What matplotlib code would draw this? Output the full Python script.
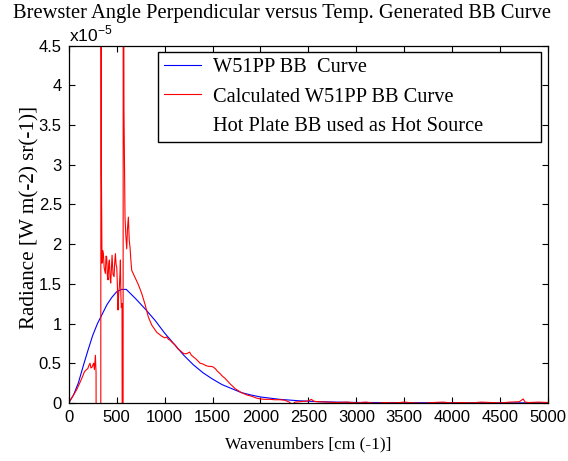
import matplotlib
matplotlib.use("Agg")
import matplotlib.pyplot as plt
from matplotlib.lines import Line2D

# radiance values are in units of 1e-5 W m^-2 sr^-1
blue_x = [0, 50, 100, 150, 200, 250, 300, 350, 400, 450, 500, 550, 600, 650,
          700, 800, 900, 1000, 1100, 1200, 1300, 1400, 1500, 1600, 1700, 1800,
          1900, 2000, 2200, 2400, 2600, 2800, 3000, 3500, 4000, 4500, 5000]
blue_y = [0, 0.10, 0.25, 0.46, 0.66, 0.85, 1.00, 1.12, 1.24, 1.33, 1.40, 1.43,
          1.43, 1.37, 1.31, 1.18, 1.04, 0.88, 0.74, 0.60, 0.48, 0.38, 0.30,
          0.23, 0.18, 0.13, 0.10, 0.075, 0.045, 0.027, 0.016, 0.01, 0.006,
          0.003, 0.002, 0.001, 0.0005]

red_x = [0, 40, 80, 111, 140, 163, 185, 198, 210, 222, 232, 243, 252, 260, 268,
         278, 285, 292, 333, 337, 341, 347, 354, 361, 370, 382, 389, 396, 403,
         410, 417, 424, 431, 438, 445, 452, 462, 473, 480, 487, 494, 501, 507,
         514, 521, 528, 534, 539, 544, 549, 556, 562, 566, 569, 576, 587, 596,
         605, 613, 622, 631, 640, 648, 657, 692, 726, 761, 796, 831, 866, 918,
         970, 1000, 1022, 1040, 1057, 1080, 1109, 1140, 1161, 1180, 1200, 1231,
         1260, 1280, 1300, 1330, 1370, 1400, 1430, 1460, 1490, 1509, 1530, 1550,
         1578, 1600, 1630, 1660, 1683, 1710, 1735, 1760, 1787, 1820, 1857, 1890,
         1926, 1960, 2000, 2050, 2100, 2150, 2200, 2250, 2300, 2330, 2360, 2400,
         2450, 2500, 2530, 2560, 2600, 2700, 2800, 2900, 3000, 3100, 3200, 3300,
         3400, 3500, 3600, 3700, 3800, 3900, 4000, 4100, 4200, 4300, 4400, 4500,
         4600, 4700, 4740, 4760, 4800, 4900, 5000]
red_y = [0, 0.08, 0.16, 0.24, 0.32, 0.39, 0.42, 0.43, 0.47, 0.50, 0.44, 0.45,
         0.48, 0.50, 0.42, 0.60, 0.38, -5, -5, 9, 2.9, 1.76, 1.92, 1.88, 1.70,
         1.63, 1.85, 1.84, 1.60, 1.55, 1.75, 1.80, 1.58, 1.51, 1.70, 1.86, 1.62,
         1.59, 1.78, 1.88, 1.74, 1.71, 1.50, 1.17, 1.38, 1.46, 1.62, 1.80, 1.35,
         1.20, 1.25, -5, -5, 9, 3.7, 2.34, 2.10, 1.94, 2.20, 2.34, 2.05, 1.95,
         1.80, 1.67, 1.58, 1.49, 1.38, 1.24, 1.08, 0.98, 0.89, 0.84, 0.82, 0.83,
         0.80, 0.79, 0.76, 0.73, 0.68, 0.66, 0.64, 0.62, 0.62, 0.64, 0.60, 0.58,
         0.55, 0.50, 0.49, 0.47, 0.46, 0.46, 0.45, 0.43, 0.40, 0.37, 0.34, 0.31,
         0.27, 0.24, 0.21, 0.18, 0.16, 0.14, 0.12, 0.10, 0.09, 0.076, 0.06, 0.05,
         0.045, 0.045, 0.04, 0.04, 0.035, 0.01, -0.02, 0.01, 0.015, 0.02, 0.025,
         0.045, 0.02, 0.015, 0.01, 0.005, 0.01, 0.0, 0.01, -0.005, 0.005, 0.0,
         0.01, 0.0, -0.005, 0.005, 0.01, 0.0, 0.005, 0.0, 0.01, 0.005, 0.0, 0.01,
         0.015, 0.05, 0.01, 0.005, 0.01, 0.005]

x_ticks = [0, 500, 1000, 1500, 2000, 2500, 3000, 3500, 4000, 4500, 5000]
y_ticks = [0, 0.5, 1, 1.5, 2, 2.5, 3, 3.5, 4, 4.5]
y_tick_labels = ["0", "0.5", "1", "1.5", "2", "2.5", "3", "3.5", "4", "4.5"]

SERIF = "Liberation Serif"
SANS = "Liberation Sans"

fig = plt.figure(figsize=(5.68, 4.61), dpi=100)
ax = fig.add_axes([0.121, 0.126, 0.844, 0.775])

ax.plot(blue_x, blue_y, color="#0000ff", linewidth=0.8)
ax.plot(red_x, red_y, color="#ff0000", linewidth=0.8)

ax.set_xlim(0, 5000)
ax.set_ylim(0, 4.5)
ax.set_xticks(x_ticks)
ax.set_xticklabels([str(t) for t in x_ticks], fontfamily=SANS, fontsize=12)
ax.set_yticks(y_ticks)
ax.set_yticklabels(y_tick_labels, fontfamily=SANS, fontsize=12)
ax.tick_params(direction="in", length=4, width=0.8, top=True, right=True, pad=5)
for s in ax.spines.values():
    s.set_linewidth(0.9)

ax.text(0.0, 1.003, r"x10$^{\mathregular{-5}}$", transform=ax.transAxes,
        ha="left", va="bottom", fontfamily=SANS, fontsize=12.5)

ax.set_title("Brewster Angle Perpendicular versus Temp. Generated BB Curve",
             fontfamily=SERIF, fontsize=14.8, pad=20, x=0.444)
ax.set_xlabel("Wavenumbers [cm (-1)]", fontfamily=SERIF, fontsize=12.5, labelpad=8)
ax.set_ylabel("Radiance [W m(-2) sr(-1)]", fontfamily=SERIF, fontsize=15.2)
ax.yaxis.set_label_coords(-0.062, 0.518)

handles = [
    Line2D([], [], color="#0000ff", linewidth=0.8),
    Line2D([], [], color="#ff0000", linewidth=0.8),
    Line2D([], [], color="none", linewidth=0),
]
labels = ["W51PP BB  Curve", "Calculated W51PP BB Curve",
          "Hot Plate BB used as Hot Source"]
leg = ax.legend(handles, labels, loc="upper left",
                bbox_to_anchor=(0.186, 0.733, 0.799, 0.25), mode="expand",
                prop={"family": SERIF, "size": 14.7}, frameon=True,
                fancybox=False, edgecolor="black", framealpha=1,
                handlelength=1.8, handletextpad=0.6, labelspacing=0.5,
                borderpad=0.3, borderaxespad=0)
leg.get_frame().set_linewidth(1.0)

fig.savefig("out.png", dpi=100)
